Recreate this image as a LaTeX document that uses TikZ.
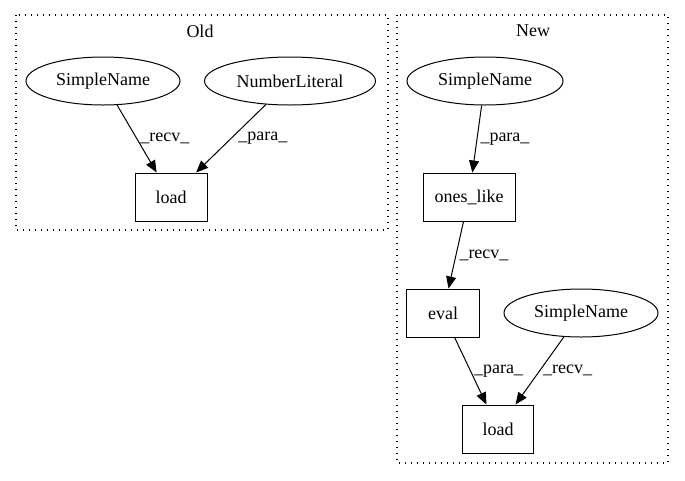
\documentclass[tikz,border=0pt]{standalone}
\usepackage{fontspec}
\setmainfont{Liberation Serif}
\usetikzlibrary{arrows.meta,shapes.geometric}

\begin{document}
\begin{tikzpicture}[x=1pt, y=-1pt, line width=1pt, font=\fontsize{18}{22}\selectfont,
    ast/.style={draw, ellipse, minimum width=154pt, minimum height=48pt, inner sep=0pt},
    call/.style={draw, rectangle, minimum height=48pt, inner sep=0pt},
    edge/.style={-{Triangle[length=12pt,width=10pt]}},
    elabel/.style={right, inner sep=3pt},
    cluster/.style={draw, line width=1.3pt, dash pattern=on 1.4pt off 4.6pt}]
  \useasboundingbox (0,0) rectangle (685,480);
  % clusters
  \draw [cluster] (16,15) rectangle (388,230);
  \draw [cluster] (397,15) rectangle (668,463);
  \node (oldtitle) at (200,31) {Old};
  \node (newtitle) at (533,31) {New};
  % old
  \node [ast] (oldname) at (103,81) {SimpleName};
  \node [ast, minimum width=171pt] (oldnum) at (290,81) {NumberLiteral};
  \node [call, minimum width=72pt] (oldload) at (171,197) {load};
  \draw [edge] (oldname) -- node [elabel] {\_recv\_} (oldload);
  \draw [edge] (oldnum) -- node [elabel, xshift=4pt] {\_para\_} (oldload);
  % new
  \node [ast, minimum width=156pt] (newname) at (485,81) {SimpleName};
  \node [call, minimum width=92pt] (oneslike) at (469,197) {ones\_like};
  \node [call, minimum width=73pt] (eval) at (443,313) {eval};
  \node [ast] (newname2) at (581,313) {SimpleName};
  \node [call, minimum width=71pt] (newload) at (498,429) {load};
  \draw [edge] (newname) -- node [elabel] {\_para\_} (oneslike);
  \draw [edge] (oneslike) -- node [elabel] {\_recv\_} (eval);
  \draw [edge] (eval) -- node [elabel] {\_para\_} (newload);
  \draw [edge] (newname2) -- node [elabel] {\_recv\_} (newload);
\end{tikzpicture}
\end{document}
